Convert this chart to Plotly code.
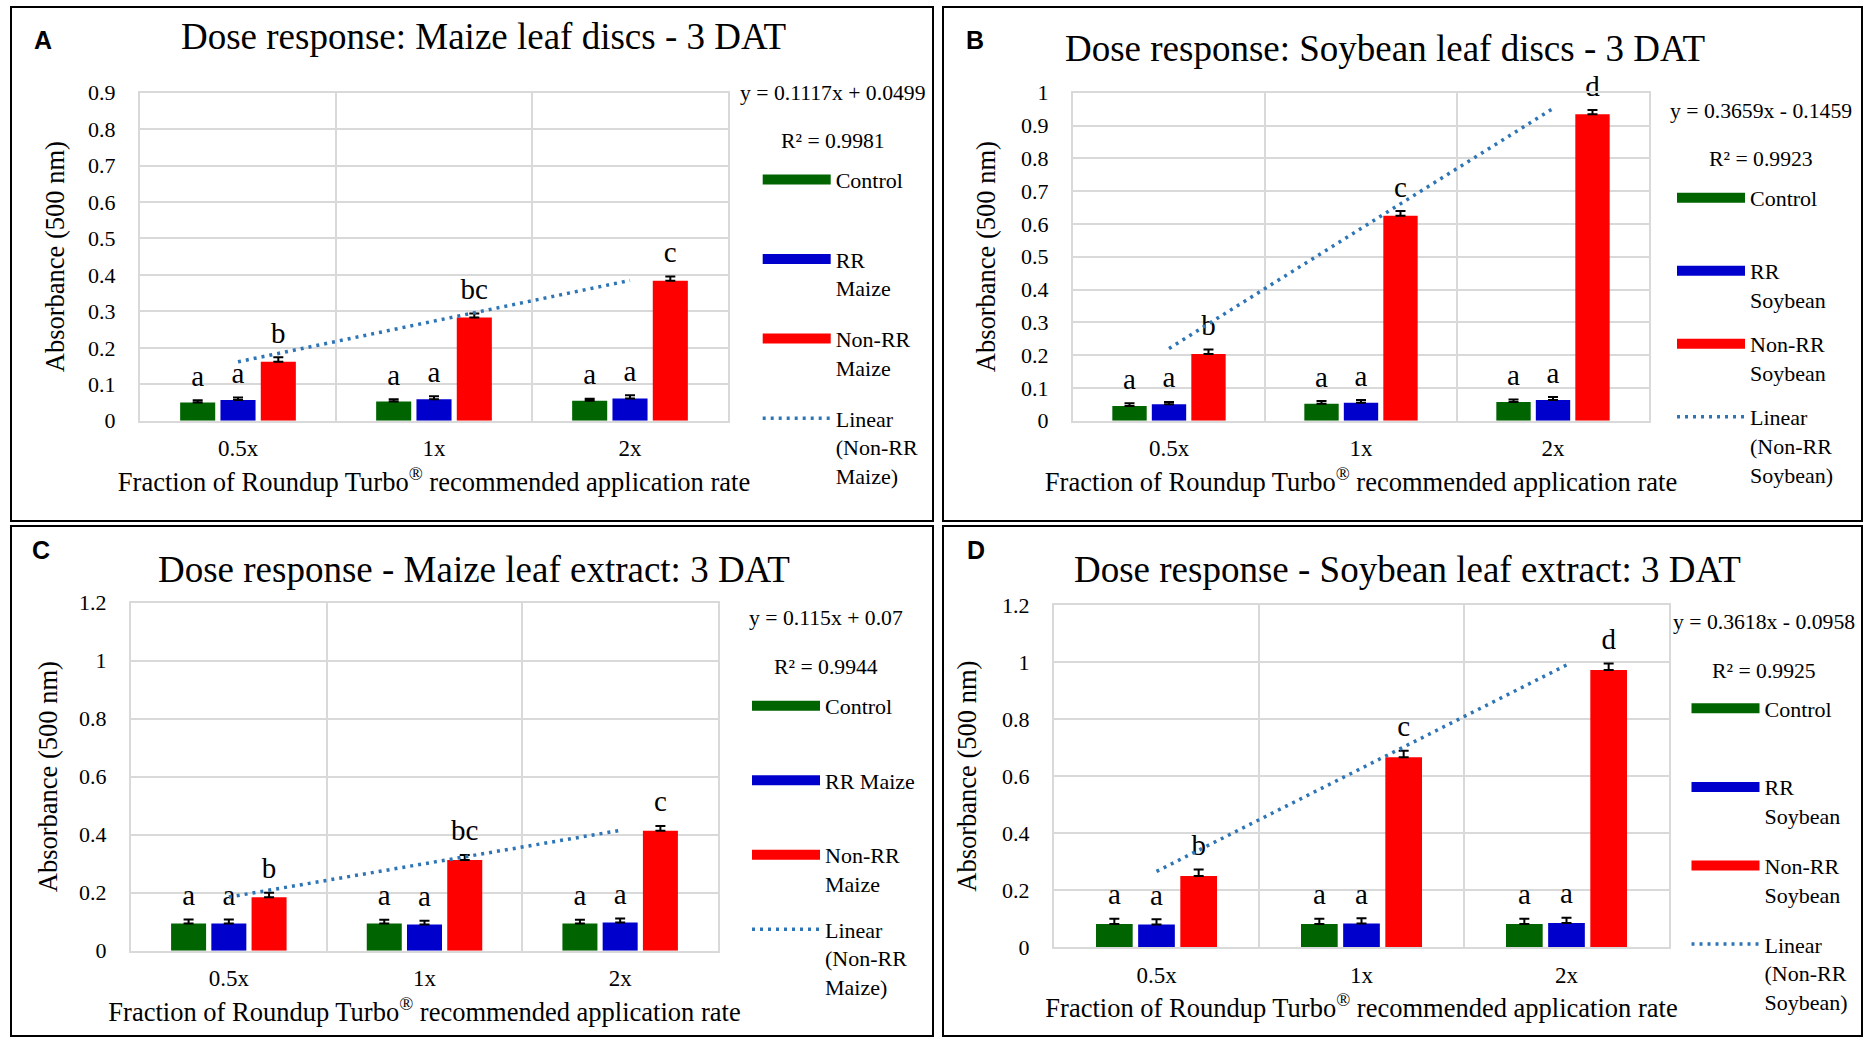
import plotly.graph_objects as go

W, H = 1863, 1037
SERIF = "Liberation Serif, Times New Roman, serif"
SANS = "Liberation Sans, Arial, sans-serif"

GREEN = "#006400"
BLUE = "#0000CC"
RED = "#FF0000"
TREND = "#2E75B6"
GRID = "#d9d9d9"

categories = ["0.5x", "1x", "2x"]

# ---------------- Panel A: Maize leaf discs ----------------
a_control = [0.050, 0.053, 0.055]
a_control_err = [0.006, 0.006, 0.005]
a_rr = [0.057, 0.059, 0.061]
a_rr_err = [0.007, 0.008, 0.009]
a_nonrr = [0.162, 0.283, 0.384]
a_nonrr_err = [0.012, 0.011, 0.012]
a_letters_control = ["a", "a", "a"]
a_letters_rr = ["a", "a", "a"]
a_letters_nonrr = ["b", "bc", "c"]
a_slope, a_intercept, a_r2 = 0.1117, 0.0499, 0.9981

# ---------------- Panel B: Soybean leaf discs ----------------
b_control = [0.045, 0.052, 0.057]
b_control_err = [0.008, 0.008, 0.008]
b_rr = [0.050, 0.055, 0.063]
b_rr_err = [0.007, 0.008, 0.009]
b_nonrr = [0.203, 0.625, 0.934]
b_nonrr_err = [0.014, 0.014, 0.013]
b_letters_control = ["a", "a", "a"]
b_letters_rr = ["a", "a", "a"]
b_letters_nonrr = ["b", "c", "d"]
b_slope, b_intercept, b_r2 = 0.3659, -0.1459, 0.9923

# ---------------- Panel C: Maize leaf extract ----------------
c_control = [0.094, 0.094, 0.094]
c_control_err = [0.014, 0.013, 0.013]
c_rr = [0.094, 0.090, 0.097]
c_rr_err = [0.014, 0.013, 0.014]
c_nonrr = [0.184, 0.313, 0.414]
c_nonrr_err = [0.016, 0.017, 0.016]
c_letters_control = ["a", "a", "a"]
c_letters_rr = ["a", "a", "a"]
c_letters_nonrr = ["b", "bc", "c"]
c_slope, c_intercept, c_r2 = 0.115, 0.07, 0.9944

# ---------------- Panel D: Soybean leaf extract ----------------
d_control = [0.082, 0.082, 0.082]
d_control_err = [0.018, 0.018, 0.018]
d_rr = [0.080, 0.083, 0.085]
d_rr_err = [0.018, 0.019, 0.019]
d_nonrr = [0.250, 0.666, 0.972]
d_nonrr_err = [0.023, 0.023, 0.023]
d_letters_control = ["a", "a", "a"]
d_letters_rr = ["a", "a", "a"]
d_letters_nonrr = ["b", "c", "d"]
d_slope, d_intercept, d_r2 = 0.3618, -0.0958, 0.9925

titles = [
    "Dose response: Maize leaf discs - 3 DAT",
    "Dose response: Soybean leaf discs - 3 DAT",
    "Dose response - Maize leaf extract: 3 DAT",
    "Dose response - Soybean leaf extract: 3 DAT",
]
panel_letters = ["A", "B", "C", "D"]
legend_names = [
    ["Control<br>\u00a0", "RR<br>Maize", "Non-RR<br>Maize", "Linear<br>(Non-RR<br>Maize)"],
    ["Control<br>\u00a0", "RR<br>Soybean", "Non-RR<br>Soybean", "Linear<br>(Non-RR<br>Soybean)"],
    ["Control<br>\u00a0", "RR Maize<br>\u00a0", "Non-RR<br>Maize", "Linear<br>(Non-RR<br>Maize)"],
    ["Control<br>\u00a0", "RR<br>Soybean", "Non-RR<br>Soybean", "Linear<br>(Non-RR<br>Soybean)"],
]
x_title = "Fraction of Roundup Turbo<sup>®</sup> recommended application rate"
y_title = "Absorbance (500 nm)"


def px(x):
    return x / W


def py(y):
    return 1 - y / H


panels = [
    dict(series=[(a_control, a_control_err, a_letters_control),
                 (a_rr, a_rr_err, a_letters_rr),
                 (a_nonrr, a_nonrr_err, a_letters_nonrr)],
         fit=(a_slope, a_intercept, a_r2), yrange=[0, 0.9], dtick=0.1,
         plot=(140, 728, 92.7, 420.7), title=(483, 36), letter=(42.5, 40.5),
         eq=(833, 92.7, 141), legend=(757.7, 179.4, 79.6), ystand=16),
    dict(series=[(b_control, b_control_err, b_letters_control),
                 (b_rr, b_rr_err, b_letters_rr),
                 (b_nonrr, b_nonrr_err, b_letters_nonrr)],
         fit=(b_slope, b_intercept, b_r2), yrange=[0, 1.0], dtick=0.1,
         plot=(1073, 1649, 92.7, 420.7), title=(1385, 48), letter=(974.6, 40),
         eq=(1761, 111, 159.3), legend=(1672, 197.8, 73), ystand=18),
    dict(series=[(c_control, c_control_err, c_letters_control),
                 (c_rr, c_rr_err, c_letters_rr),
                 (c_nonrr, c_nonrr_err, c_letters_nonrr)],
         fit=(c_slope, c_intercept, c_r2), yrange=[0, 1.2], dtick=0.2,
         plot=(131, 718, 602.7, 950.7), title=(474.4, 569), letter=(41, 550),
         eq=(825.6, 618.3, 667.3), legend=(747, 705.7, 74.5), ystand=14),
    dict(series=[(d_control, d_control_err, d_letters_control),
                 (d_rr, d_rr_err, d_letters_rr),
                 (d_nonrr, d_nonrr_err, d_letters_nonrr)],
         fit=(d_slope, d_intercept, d_r2), yrange=[0, 1.2], dtick=0.2,
         plot=(1054, 1669, 605, 947.3), title=(1407, 569), letter=(975.5, 550),
         eq=(1764, 621.7, 670.7), legend=(1686.5, 708.3, 78.6), ystand=18),
]

colors = [GREEN, BLUE, RED]
groups = ["g1", "g2", "g3"]

fig = go.Figure()
annotations = []
shapes = []
layout_extra = {}

FONT_LEG = 22
line_h = FONT_LEG * 1.3
item_h = 2 * line_h + 3

for i, p in enumerate(panels):
    sfx = "" if i == 0 else str(i + 1)
    xa, ya = "x" + sfx, "y" + sfx
    leg = "legend" + sfx
    names = legend_names[i]

    for j, (vals, errs, letters) in enumerate(p["series"]):
        fig.add_trace(go.Bar(
            x=categories, y=vals, xaxis=xa, yaxis=ya, offsetgroup=groups[j],
            marker=dict(color=colors[j], line=dict(width=0)),
            error_y=dict(type="data", array=errs, arrayminus=[0] * len(errs),
                         symmetric=False, color="black", thickness=2, width=5),
            showlegend=False, hoverinfo="skip"))
        fig.add_trace(go.Scatter(
            x=categories, y=[v + e for v, e in zip(vals, errs)], text=letters,
            mode="markers+text", textposition="top center", offsetgroup=groups[j],
            marker=dict(size=10, color="rgba(0,0,0,0)"), cliponaxis=False,
            textfont=dict(family=SERIF, size=29, color="black"),
            xaxis=xa, yaxis=ya, showlegend=False, hoverinfo="skip"))
        # legend key
        fig.add_trace(go.Scatter(
            x=[None], y=[None], mode="lines", name=names[j], offsetgroup="g2",
            line=dict(color=colors[j], width=12), xaxis=xa, yaxis=ya,
            legend=leg, legendgroup=f"{i}_{j}", showlegend=True))

    slope, intercept, r2 = p["fit"]
    fit_y = [slope * (k + 1) + intercept for k in range(len(categories))]
    fig.add_trace(go.Scatter(
        x=categories, y=fit_y, mode="lines", name=names[3], offsetgroup="g2",
        line=dict(color=TREND, width=3.5, dash="3px,5px"), xaxis=xa, yaxis=ya,
        legend=leg, legendgroup=f"{i}_3", hoverinfo="skip"))

    x0, x1, y0, y1 = p["plot"]
    layout_extra["xaxis" + sfx] = dict(
        domain=[px(x0), px(x1)], anchor=ya, type="category",
        tickson="boundaries", showgrid=True, gridcolor=GRID, gridwidth=2,
        showline=True, linecolor=GRID, linewidth=2, mirror=True,
        ticks="outside", ticklen=20, tickcolor="rgba(0,0,0,0)", ticklabelstandoff=6,
        tickfont=dict(family=SERIF, size=23, color="black"),
        title=dict(text=x_title, font=dict(family=SERIF, size=26.5, color="black"), standoff=12),
        automargin=True, fixedrange=True)
    layout_extra["yaxis" + sfx] = dict(
        domain=[py(y1), py(y0)], anchor=xa, range=p["yrange"], dtick=p["dtick"],
        showgrid=True, gridcolor=GRID, gridwidth=2, zeroline=False,
        showline=True, linecolor=GRID, linewidth=2, mirror=True,
        ticks="outside", ticklen=18, tickcolor="rgba(0,0,0,0)",
        tickfont=dict(family=SERIF, size=22, color="black"),
        title=dict(text=y_title, font=dict(family=SERIF, size=26.5, color="black"),
                   standoff=p["ystand"]),
        automargin=True, fixedrange=True)

    lx, ly, spacing = p["legend"]
    layout_extra[leg] = dict(
        x=px(lx), y=py(ly - 5 - item_h / 2 + line_h / 2), xanchor="left", yanchor="top",
        xref="paper", yref="paper", bgcolor="rgba(0,0,0,0)",
        font=dict(family=SERIF, size=FONT_LEG, color="black"),
        itemwidth=68, valign="top", traceorder="grouped",
        tracegroupgap=spacing - item_h, itemclick=False, itemdoubleclick=False)

    tx, ty = p["title"]
    annotations.append(dict(text=titles[i], x=px(tx), y=py(ty), xref="paper", yref="paper",
                            xanchor="center", yanchor="middle", showarrow=False,
                            font=dict(family=SERIF, size=37, color="black")))
    lx2, ly2 = p["letter"]
    annotations.append(dict(text="<b>" + panel_letters[i] + "</b>", x=px(lx2), y=py(ly2),
                            xref="paper", yref="paper", xanchor="center", yanchor="middle",
                            showarrow=False, font=dict(family=SANS, size=25, color="black")))
    ex, ey1, ey2 = p["eq"]
    sign = "+" if intercept >= 0 else "-"
    annotations.append(dict(text=f"y = {slope}x {sign} {abs(intercept)}", x=px(ex), y=py(ey1),
                            xref="paper", yref="paper", xanchor="center", yanchor="middle",
                            showarrow=False, font=dict(family=SERIF, size=21.7, color="black")))
    annotations.append(dict(text=f"R² = {r2}", x=px(ex), y=py(ey2),
                            xref="paper", yref="paper", xanchor="center", yanchor="middle",
                            showarrow=False, font=dict(family=SERIF, size=21.7, color="black")))

# panel frames
frames = [(11, 7, 933, 521), (943, 7, 1862, 521), (11, 526, 933, 1036), (943, 526, 1862, 1036)]
for (fx0, fy0, fx1, fy1) in frames:
    shapes.append(dict(type="rect", xref="paper", yref="paper",
                       x0=px(fx0), x1=px(fx1), y0=py(fy1), y1=py(fy0),
                       line=dict(color="black", width=2), fillcolor="rgba(0,0,0,0)"))

fig.update_layout(
    width=W, height=H, margin=dict(l=0, r=0, t=0, b=0, pad=0, autoexpand=False),
    paper_bgcolor="white", plot_bgcolor="white",
    barmode="group", bargap=0.383, bargroupgap=0.13,
    scattermode="group", scattergap=0.383,
    annotations=annotations, shapes=shapes,
    font=dict(family=SERIF, color="black"),
    **layout_extra)

fig.write_html("out.html", config={"displayModeBar": False},
               post_script="document.body.style.margin='0px';document.body.style.overflow='hidden';")
